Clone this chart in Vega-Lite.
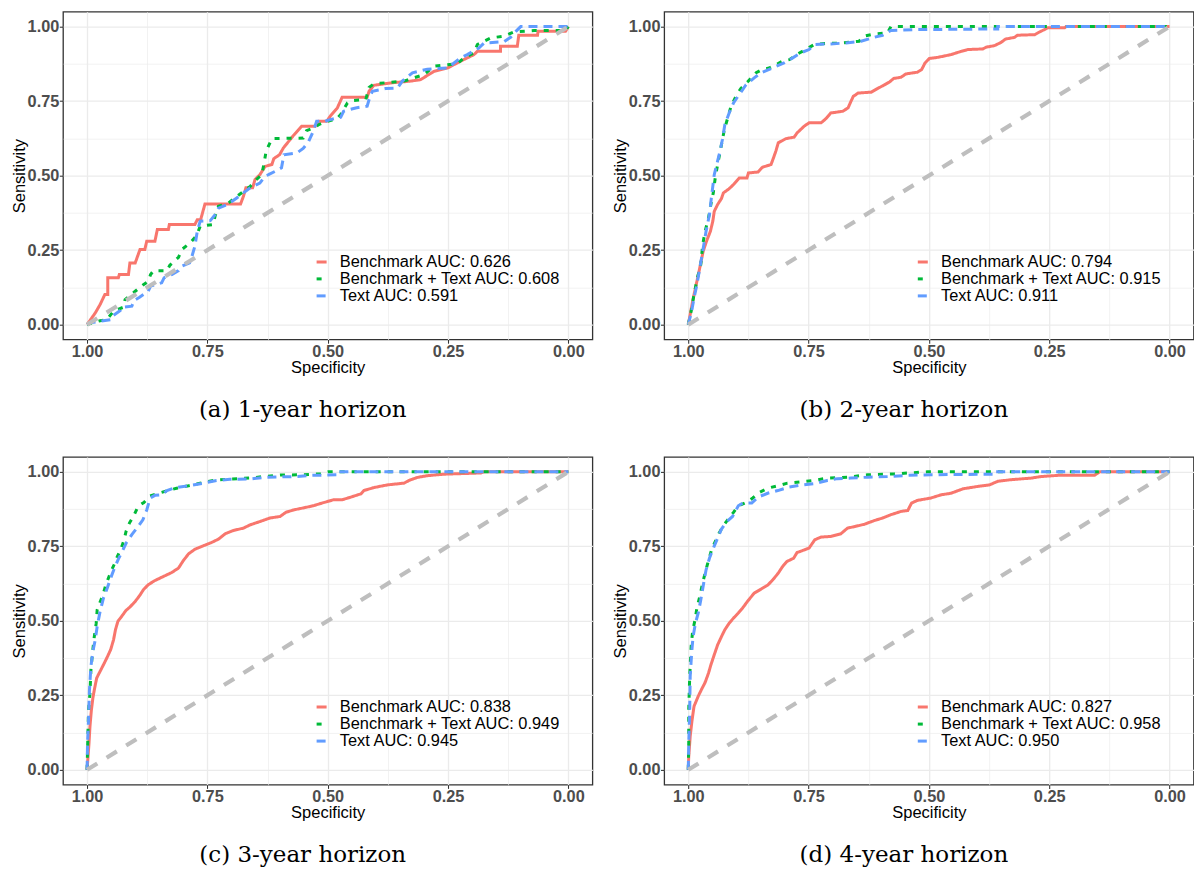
{
"$schema": "https://vega.github.io/schema/vega-lite/v6.json",
"background": "white",
"padding": {"left": 10, "top": 10.7, "right": 0, "bottom": 0},
"datasets": {
"diag": [{"sp": 1, "se": 0}, {"sp": 0, "se": 1}],
"roc": [
{"h":"a","m":"Benchmark AUC: 0.626","sp":1,"se":0},{"h":"a","m":"Benchmark AUC: 0.626","sp":0.983,"se":0.039},{"h":"a","m":"Benchmark AUC: 0.626","sp":0.973,"se":0.067},{"h":"a","m":"Benchmark AUC: 0.626","sp":0.963,"se":0.101},{"h":"a","m":"Benchmark AUC: 0.626","sp":0.957,"se":0.101},{"h":"a","m":"Benchmark AUC: 0.626","sp":0.957,"se":0.157},{"h":"a","m":"Benchmark AUC: 0.626","sp":0.935,"se":0.157},{"h":"a","m":"Benchmark AUC: 0.626","sp":0.933,"se":0.168},{"h":"a","m":"Benchmark AUC: 0.626","sp":0.914,"se":0.168},{"h":"a","m":"Benchmark AUC: 0.626","sp":0.911,"se":0.207},{"h":"a","m":"Benchmark AUC: 0.626","sp":0.9,"se":0.207},{"h":"a","m":"Benchmark AUC: 0.626","sp":0.89,"se":0.252},{"h":"a","m":"Benchmark AUC: 0.626","sp":0.88,"se":0.252},{"h":"a","m":"Benchmark AUC: 0.626","sp":0.876,"se":0.28},{"h":"a","m":"Benchmark AUC: 0.626","sp":0.859,"se":0.28},{"h":"a","m":"Benchmark AUC: 0.626","sp":0.854,"se":0.319},{"h":"a","m":"Benchmark AUC: 0.626","sp":0.831,"se":0.319},{"h":"a","m":"Benchmark AUC: 0.626","sp":0.829,"se":0.336},{"h":"a","m":"Benchmark AUC: 0.626","sp":0.776,"se":0.336},{"h":"a","m":"Benchmark AUC: 0.626","sp":0.771,"se":0.352},{"h":"a","m":"Benchmark AUC: 0.626","sp":0.764,"se":0.352},{"h":"a","m":"Benchmark AUC: 0.626","sp":0.755,"se":0.405},{"h":"a","m":"Benchmark AUC: 0.626","sp":0.681,"se":0.405},{"h":"a","m":"Benchmark AUC: 0.626","sp":0.675,"se":0.431},{"h":"a","m":"Benchmark AUC: 0.626","sp":0.67,"se":0.459},{"h":"a","m":"Benchmark AUC: 0.626","sp":0.656,"se":0.459},{"h":"a","m":"Benchmark AUC: 0.626","sp":0.651,"se":0.487},{"h":"a","m":"Benchmark AUC: 0.626","sp":0.641,"se":0.503},{"h":"a","m":"Benchmark AUC: 0.626","sp":0.63,"se":0.531},{"h":"a","m":"Benchmark AUC: 0.626","sp":0.616,"se":0.537},{"h":"a","m":"Benchmark AUC: 0.626","sp":0.612,"se":0.557},{"h":"a","m":"Benchmark AUC: 0.626","sp":0.6,"se":0.57},{"h":"a","m":"Benchmark AUC: 0.626","sp":0.592,"se":0.593},{"h":"a","m":"Benchmark AUC: 0.626","sp":0.578,"se":0.621},{"h":"a","m":"Benchmark AUC: 0.626","sp":0.571,"se":0.635},{"h":"a","m":"Benchmark AUC: 0.626","sp":0.554,"se":0.666},{"h":"a","m":"Benchmark AUC: 0.626","sp":0.526,"se":0.666},{"h":"a","m":"Benchmark AUC: 0.626","sp":0.519,"se":0.682},{"h":"a","m":"Benchmark AUC: 0.626","sp":0.502,"se":0.682},{"h":"a","m":"Benchmark AUC: 0.626","sp":0.495,"se":0.699},{"h":"a","m":"Benchmark AUC: 0.626","sp":0.48,"se":0.727},{"h":"a","m":"Benchmark AUC: 0.626","sp":0.47,"se":0.763},{"h":"a","m":"Benchmark AUC: 0.626","sp":0.418,"se":0.763},{"h":"a","m":"Benchmark AUC: 0.626","sp":0.414,"se":0.783},{"h":"a","m":"Benchmark AUC: 0.626","sp":0.404,"se":0.803},{"h":"a","m":"Benchmark AUC: 0.626","sp":0.369,"se":0.811},{"h":"a","m":"Benchmark AUC: 0.626","sp":0.328,"se":0.817},{"h":"a","m":"Benchmark AUC: 0.626","sp":0.307,"se":0.822},{"h":"a","m":"Benchmark AUC: 0.626","sp":0.279,"se":0.85},{"h":"a","m":"Benchmark AUC: 0.626","sp":0.251,"se":0.861},{"h":"a","m":"Benchmark AUC: 0.626","sp":0.224,"se":0.884},{"h":"a","m":"Benchmark AUC: 0.626","sp":0.196,"se":0.906},{"h":"a","m":"Benchmark AUC: 0.626","sp":0.189,"se":0.917},{"h":"a","m":"Benchmark AUC: 0.626","sp":0.141,"se":0.917},{"h":"a","m":"Benchmark AUC: 0.626","sp":0.141,"se":0.934},{"h":"a","m":"Benchmark AUC: 0.626","sp":0.106,"se":0.934},{"h":"a","m":"Benchmark AUC: 0.626","sp":0.103,"se":0.971},{"h":"a","m":"Benchmark AUC: 0.626","sp":0.064,"se":0.971},{"h":"a","m":"Benchmark AUC: 0.626","sp":0.063,"se":0.984},{"h":"a","m":"Benchmark AUC: 0.626","sp":0.006,"se":0.984},{"h":"a","m":"Benchmark AUC: 0.626","sp":0,"se":1},
{"h":"a","m":"Benchmark + Text AUC: 0.608","sp":1,"se":0},{"h":"a","m":"Benchmark + Text AUC: 0.608","sp":0.973,"se":0.013},{"h":"a","m":"Benchmark + Text AUC: 0.608","sp":0.959,"se":0.017},{"h":"a","m":"Benchmark + Text AUC: 0.608","sp":0.945,"se":0.045},{"h":"a","m":"Benchmark + Text AUC: 0.608","sp":0.925,"se":0.058},{"h":"a","m":"Benchmark + Text AUC: 0.608","sp":0.921,"se":0.084},{"h":"a","m":"Benchmark + Text AUC: 0.608","sp":0.9,"se":0.112},{"h":"a","m":"Benchmark + Text AUC: 0.608","sp":0.883,"se":0.134},{"h":"a","m":"Benchmark + Text AUC: 0.608","sp":0.873,"se":0.145},{"h":"a","m":"Benchmark + Text AUC: 0.608","sp":0.868,"se":0.168},{"h":"a","m":"Benchmark + Text AUC: 0.608","sp":0.862,"se":0.181},{"h":"a","m":"Benchmark + Text AUC: 0.608","sp":0.834,"se":0.181},{"h":"a","m":"Benchmark + Text AUC: 0.608","sp":0.828,"se":0.199},{"h":"a","m":"Benchmark + Text AUC: 0.608","sp":0.81,"se":0.226},{"h":"a","m":"Benchmark + Text AUC: 0.608","sp":0.803,"se":0.252},{"h":"a","m":"Benchmark + Text AUC: 0.608","sp":0.786,"se":0.274},{"h":"a","m":"Benchmark + Text AUC: 0.608","sp":0.772,"se":0.3},{"h":"a","m":"Benchmark + Text AUC: 0.608","sp":0.765,"se":0.33},{"h":"a","m":"Benchmark + Text AUC: 0.608","sp":0.738,"se":0.336},{"h":"a","m":"Benchmark + Text AUC: 0.608","sp":0.734,"se":0.364},{"h":"a","m":"Benchmark + Text AUC: 0.608","sp":0.727,"se":0.397},{"h":"a","m":"Benchmark + Text AUC: 0.608","sp":0.706,"se":0.408},{"h":"a","m":"Benchmark + Text AUC: 0.608","sp":0.693,"se":0.425},{"h":"a","m":"Benchmark + Text AUC: 0.608","sp":0.675,"se":0.447},{"h":"a","m":"Benchmark + Text AUC: 0.608","sp":0.661,"se":0.464},{"h":"a","m":"Benchmark + Text AUC: 0.608","sp":0.648,"se":0.487},{"h":"a","m":"Benchmark + Text AUC: 0.608","sp":0.637,"se":0.503},{"h":"a","m":"Benchmark + Text AUC: 0.608","sp":0.632,"se":0.543},{"h":"a","m":"Benchmark + Text AUC: 0.608","sp":0.628,"se":0.582},{"h":"a","m":"Benchmark + Text AUC: 0.608","sp":0.616,"se":0.624},{"h":"a","m":"Benchmark + Text AUC: 0.608","sp":0.551,"se":0.626},{"h":"a","m":"Benchmark + Text AUC: 0.608","sp":0.544,"se":0.651},{"h":"a","m":"Benchmark + Text AUC: 0.608","sp":0.533,"se":0.658},{"h":"a","m":"Benchmark + Text AUC: 0.608","sp":0.516,"se":0.673},{"h":"a","m":"Benchmark + Text AUC: 0.608","sp":0.495,"se":0.685},{"h":"a","m":"Benchmark + Text AUC: 0.608","sp":0.483,"se":0.688},{"h":"a","m":"Benchmark + Text AUC: 0.608","sp":0.473,"se":0.705},{"h":"a","m":"Benchmark + Text AUC: 0.608","sp":0.459,"se":0.744},{"h":"a","m":"Benchmark + Text AUC: 0.608","sp":0.449,"se":0.752},{"h":"a","m":"Benchmark + Text AUC: 0.608","sp":0.421,"se":0.755},{"h":"a","m":"Benchmark + Text AUC: 0.608","sp":0.414,"se":0.796},{"h":"a","m":"Benchmark + Text AUC: 0.608","sp":0.404,"se":0.808},{"h":"a","m":"Benchmark + Text AUC: 0.608","sp":0.341,"se":0.817},{"h":"a","m":"Benchmark + Text AUC: 0.608","sp":0.321,"se":0.828},{"h":"a","m":"Benchmark + Text AUC: 0.608","sp":0.3,"se":0.839},{"h":"a","m":"Benchmark + Text AUC: 0.608","sp":0.279,"se":0.867},{"h":"a","m":"Benchmark + Text AUC: 0.608","sp":0.251,"se":0.872},{"h":"a","m":"Benchmark + Text AUC: 0.608","sp":0.23,"se":0.876},{"h":"a","m":"Benchmark + Text AUC: 0.608","sp":0.217,"se":0.895},{"h":"a","m":"Benchmark + Text AUC: 0.608","sp":0.196,"se":0.912},{"h":"a","m":"Benchmark + Text AUC: 0.608","sp":0.189,"se":0.94},{"h":"a","m":"Benchmark + Text AUC: 0.608","sp":0.161,"se":0.962},{"h":"a","m":"Benchmark + Text AUC: 0.608","sp":0.134,"se":0.968},{"h":"a","m":"Benchmark + Text AUC: 0.608","sp":0.113,"se":0.982},{"h":"a","m":"Benchmark + Text AUC: 0.608","sp":0.071,"se":0.987},{"h":"a","m":"Benchmark + Text AUC: 0.608","sp":0.006,"se":0.987},{"h":"a","m":"Benchmark + Text AUC: 0.608","sp":0,"se":1},
{"h":"a","m":"Text AUC: 0.591","sp":1,"se":0},{"h":"a","m":"Text AUC: 0.591","sp":0.994,"se":0.006},{"h":"a","m":"Text AUC: 0.591","sp":0.949,"se":0.017},{"h":"a","m":"Text AUC: 0.591","sp":0.945,"se":0.031},{"h":"a","m":"Text AUC: 0.591","sp":0.931,"se":0.047},{"h":"a","m":"Text AUC: 0.591","sp":0.928,"se":0.058},{"h":"a","m":"Text AUC: 0.591","sp":0.907,"se":0.062},{"h":"a","m":"Text AUC: 0.591","sp":0.902,"se":0.081},{"h":"a","m":"Text AUC: 0.591","sp":0.891,"se":0.092},{"h":"a","m":"Text AUC: 0.591","sp":0.873,"se":0.112},{"h":"a","m":"Text AUC: 0.591","sp":0.868,"se":0.129},{"h":"a","m":"Text AUC: 0.591","sp":0.845,"se":0.14},{"h":"a","m":"Text AUC: 0.591","sp":0.84,"se":0.157},{"h":"a","m":"Text AUC: 0.591","sp":0.824,"se":0.168},{"h":"a","m":"Text AUC: 0.591","sp":0.81,"se":0.181},{"h":"a","m":"Text AUC: 0.591","sp":0.803,"se":0.196},{"h":"a","m":"Text AUC: 0.591","sp":0.787,"se":0.207},{"h":"a","m":"Text AUC: 0.591","sp":0.783,"se":0.224},{"h":"a","m":"Text AUC: 0.591","sp":0.776,"se":0.263},{"h":"a","m":"Text AUC: 0.591","sp":0.771,"se":0.313},{"h":"a","m":"Text AUC: 0.591","sp":0.765,"se":0.347},{"h":"a","m":"Text AUC: 0.591","sp":0.744,"se":0.349},{"h":"a","m":"Text AUC: 0.591","sp":0.734,"se":0.369},{"h":"a","m":"Text AUC: 0.591","sp":0.727,"se":0.391},{"h":"a","m":"Text AUC: 0.591","sp":0.706,"se":0.405},{"h":"a","m":"Text AUC: 0.591","sp":0.689,"se":0.425},{"h":"a","m":"Text AUC: 0.591","sp":0.675,"se":0.442},{"h":"a","m":"Text AUC: 0.591","sp":0.661,"se":0.459},{"h":"a","m":"Text AUC: 0.591","sp":0.641,"se":0.475},{"h":"a","m":"Text AUC: 0.591","sp":0.63,"se":0.498},{"h":"a","m":"Text AUC: 0.591","sp":0.623,"se":0.503},{"h":"a","m":"Text AUC: 0.591","sp":0.606,"se":0.517},{"h":"a","m":"Text AUC: 0.591","sp":0.596,"se":0.526},{"h":"a","m":"Text AUC: 0.591","sp":0.591,"se":0.57},{"h":"a","m":"Text AUC: 0.591","sp":0.564,"se":0.576},{"h":"a","m":"Text AUC: 0.591","sp":0.551,"se":0.591},{"h":"a","m":"Text AUC: 0.591","sp":0.54,"se":0.613},{"h":"a","m":"Text AUC: 0.591","sp":0.53,"se":0.649},{"h":"a","m":"Text AUC: 0.591","sp":0.523,"se":0.682},{"h":"a","m":"Text AUC: 0.591","sp":0.506,"se":0.682},{"h":"a","m":"Text AUC: 0.591","sp":0.495,"se":0.688},{"h":"a","m":"Text AUC: 0.591","sp":0.473,"se":0.696},{"h":"a","m":"Text AUC: 0.591","sp":0.467,"se":0.716},{"h":"a","m":"Text AUC: 0.591","sp":0.442,"se":0.727},{"h":"a","m":"Text AUC: 0.591","sp":0.418,"se":0.733},{"h":"a","m":"Text AUC: 0.591","sp":0.412,"se":0.766},{"h":"a","m":"Text AUC: 0.591","sp":0.407,"se":0.783},{"h":"a","m":"Text AUC: 0.591","sp":0.38,"se":0.792},{"h":"a","m":"Text AUC: 0.591","sp":0.355,"se":0.794},{"h":"a","m":"Text AUC: 0.591","sp":0.345,"se":0.817},{"h":"a","m":"Text AUC: 0.591","sp":0.324,"se":0.845},{"h":"a","m":"Text AUC: 0.591","sp":0.293,"se":0.857},{"h":"a","m":"Text AUC: 0.591","sp":0.251,"se":0.861},{"h":"a","m":"Text AUC: 0.591","sp":0.224,"se":0.895},{"h":"a","m":"Text AUC: 0.591","sp":0.21,"se":0.906},{"h":"a","m":"Text AUC: 0.591","sp":0.186,"se":0.928},{"h":"a","m":"Text AUC: 0.591","sp":0.175,"se":0.945},{"h":"a","m":"Text AUC: 0.591","sp":0.134,"se":0.949},{"h":"a","m":"Text AUC: 0.591","sp":0.12,"se":0.964},{"h":"a","m":"Text AUC: 0.591","sp":0.109,"se":0.984},{"h":"a","m":"Text AUC: 0.591","sp":0.099,"se":1},{"h":"a","m":"Text AUC: 0.591","sp":0,"se":1},
{"h":"b","m":"Benchmark AUC: 0.794","sp":1,"se":0},{"h":"b","m":"Benchmark AUC: 0.794","sp":0.996,"se":0.034},{"h":"b","m":"Benchmark AUC: 0.794","sp":0.991,"se":0.078},{"h":"b","m":"Benchmark AUC: 0.794","sp":0.985,"se":0.123},{"h":"b","m":"Benchmark AUC: 0.794","sp":0.979,"se":0.168},{"h":"b","m":"Benchmark AUC: 0.794","sp":0.974,"se":0.207},{"h":"b","m":"Benchmark AUC: 0.794","sp":0.969,"se":0.246},{"h":"b","m":"Benchmark AUC: 0.794","sp":0.962,"se":0.28},{"h":"b","m":"Benchmark AUC: 0.794","sp":0.954,"se":0.313},{"h":"b","m":"Benchmark AUC: 0.794","sp":0.949,"se":0.347},{"h":"b","m":"Benchmark AUC: 0.794","sp":0.946,"se":0.38},{"h":"b","m":"Benchmark AUC: 0.794","sp":0.939,"se":0.403},{"h":"b","m":"Benchmark AUC: 0.794","sp":0.931,"se":0.423},{"h":"b","m":"Benchmark AUC: 0.794","sp":0.927,"se":0.442},{"h":"b","m":"Benchmark AUC: 0.794","sp":0.915,"se":0.456},{"h":"b","m":"Benchmark AUC: 0.794","sp":0.906,"se":0.47},{"h":"b","m":"Benchmark AUC: 0.794","sp":0.894,"se":0.492},{"h":"b","m":"Benchmark AUC: 0.794","sp":0.878,"se":0.492},{"h":"b","m":"Benchmark AUC: 0.794","sp":0.875,"se":0.509},{"h":"b","m":"Benchmark AUC: 0.794","sp":0.855,"se":0.512},{"h":"b","m":"Benchmark AUC: 0.794","sp":0.846,"se":0.528},{"h":"b","m":"Benchmark AUC: 0.794","sp":0.828,"se":0.537},{"h":"b","m":"Benchmark AUC: 0.794","sp":0.823,"se":0.559},{"h":"b","m":"Benchmark AUC: 0.794","sp":0.818,"se":0.582},{"h":"b","m":"Benchmark AUC: 0.794","sp":0.813,"se":0.61},{"h":"b","m":"Benchmark AUC: 0.794","sp":0.797,"se":0.624},{"h":"b","m":"Benchmark AUC: 0.794","sp":0.78,"se":0.629},{"h":"b","m":"Benchmark AUC: 0.794","sp":0.774,"se":0.643},{"h":"b","m":"Benchmark AUC: 0.794","sp":0.759,"se":0.666},{"h":"b","m":"Benchmark AUC: 0.794","sp":0.749,"se":0.677},{"h":"b","m":"Benchmark AUC: 0.794","sp":0.724,"se":0.677},{"h":"b","m":"Benchmark AUC: 0.794","sp":0.714,"se":0.691},{"h":"b","m":"Benchmark AUC: 0.794","sp":0.704,"se":0.71},{"h":"b","m":"Benchmark AUC: 0.794","sp":0.679,"se":0.716},{"h":"b","m":"Benchmark AUC: 0.794","sp":0.668,"se":0.727},{"h":"b","m":"Benchmark AUC: 0.794","sp":0.662,"se":0.749},{"h":"b","m":"Benchmark AUC: 0.794","sp":0.657,"se":0.766},{"h":"b","m":"Benchmark AUC: 0.794","sp":0.647,"se":0.777},{"h":"b","m":"Benchmark AUC: 0.794","sp":0.62,"se":0.78},{"h":"b","m":"Benchmark AUC: 0.794","sp":0.607,"se":0.792},{"h":"b","m":"Benchmark AUC: 0.794","sp":0.594,"se":0.803},{"h":"b","m":"Benchmark AUC: 0.794","sp":0.582,"se":0.814},{"h":"b","m":"Benchmark AUC: 0.794","sp":0.573,"se":0.826},{"h":"b","m":"Benchmark AUC: 0.794","sp":0.558,"se":0.83},{"h":"b","m":"Benchmark AUC: 0.794","sp":0.548,"se":0.841},{"h":"b","m":"Benchmark AUC: 0.794","sp":0.524,"se":0.847},{"h":"b","m":"Benchmark AUC: 0.794","sp":0.515,"se":0.856},{"h":"b","m":"Benchmark AUC: 0.794","sp":0.508,"se":0.878},{"h":"b","m":"Benchmark AUC: 0.794","sp":0.499,"se":0.893},{"h":"b","m":"Benchmark AUC: 0.794","sp":0.481,"se":0.897},{"h":"b","m":"Benchmark AUC: 0.794","sp":0.454,"se":0.906},{"h":"b","m":"Benchmark AUC: 0.794","sp":0.433,"se":0.917},{"h":"b","m":"Benchmark AUC: 0.794","sp":0.419,"se":0.923},{"h":"b","m":"Benchmark AUC: 0.794","sp":0.388,"se":0.925},{"h":"b","m":"Benchmark AUC: 0.794","sp":0.381,"se":0.931},{"h":"b","m":"Benchmark AUC: 0.794","sp":0.364,"se":0.936},{"h":"b","m":"Benchmark AUC: 0.794","sp":0.35,"se":0.947},{"h":"b","m":"Benchmark AUC: 0.794","sp":0.341,"se":0.958},{"h":"b","m":"Benchmark AUC: 0.794","sp":0.322,"se":0.964},{"h":"b","m":"Benchmark AUC: 0.794","sp":0.316,"se":0.971},{"h":"b","m":"Benchmark AUC: 0.794","sp":0.28,"se":0.973},{"h":"b","m":"Benchmark AUC: 0.794","sp":0.27,"se":0.982},{"h":"b","m":"Benchmark AUC: 0.794","sp":0.26,"se":0.99},{"h":"b","m":"Benchmark AUC: 0.794","sp":0.253,"se":0.996},{"h":"b","m":"Benchmark AUC: 0.794","sp":0.218,"se":0.996},{"h":"b","m":"Benchmark AUC: 0.794","sp":0.215,"se":1},{"h":"b","m":"Benchmark AUC: 0.794","sp":0,"se":1},
{"h":"b","m":"Benchmark + Text AUC: 0.915","sp":1,"se":0},{"h":"b","m":"Benchmark + Text AUC: 0.915","sp":0.994,"se":0.045},{"h":"b","m":"Benchmark + Text AUC: 0.915","sp":0.988,"se":0.101},{"h":"b","m":"Benchmark + Text AUC: 0.915","sp":0.981,"se":0.157},{"h":"b","m":"Benchmark + Text AUC: 0.915","sp":0.974,"se":0.201},{"h":"b","m":"Benchmark + Text AUC: 0.915","sp":0.97,"se":0.268},{"h":"b","m":"Benchmark + Text AUC: 0.915","sp":0.965,"se":0.313},{"h":"b","m":"Benchmark + Text AUC: 0.915","sp":0.958,"se":0.358},{"h":"b","m":"Benchmark + Text AUC: 0.915","sp":0.953,"se":0.403},{"h":"b","m":"Benchmark + Text AUC: 0.915","sp":0.948,"se":0.442},{"h":"b","m":"Benchmark + Text AUC: 0.915","sp":0.944,"se":0.492},{"h":"b","m":"Benchmark + Text AUC: 0.915","sp":0.939,"se":0.537},{"h":"b","m":"Benchmark + Text AUC: 0.915","sp":0.935,"se":0.57},{"h":"b","m":"Benchmark + Text AUC: 0.915","sp":0.931,"se":0.604},{"h":"b","m":"Benchmark + Text AUC: 0.915","sp":0.925,"se":0.654},{"h":"b","m":"Benchmark + Text AUC: 0.915","sp":0.918,"se":0.694},{"h":"b","m":"Benchmark + Text AUC: 0.915","sp":0.911,"se":0.733},{"h":"b","m":"Benchmark + Text AUC: 0.915","sp":0.901,"se":0.766},{"h":"b","m":"Benchmark + Text AUC: 0.915","sp":0.891,"se":0.792},{"h":"b","m":"Benchmark + Text AUC: 0.915","sp":0.877,"se":0.814},{"h":"b","m":"Benchmark + Text AUC: 0.915","sp":0.859,"se":0.845},{"h":"b","m":"Benchmark + Text AUC: 0.915","sp":0.846,"se":0.856},{"h":"b","m":"Benchmark + Text AUC: 0.915","sp":0.832,"se":0.861},{"h":"b","m":"Benchmark + Text AUC: 0.915","sp":0.818,"se":0.872},{"h":"b","m":"Benchmark + Text AUC: 0.915","sp":0.804,"se":0.884},{"h":"b","m":"Benchmark + Text AUC: 0.915","sp":0.79,"se":0.889},{"h":"b","m":"Benchmark + Text AUC: 0.915","sp":0.773,"se":0.908},{"h":"b","m":"Benchmark + Text AUC: 0.915","sp":0.756,"se":0.923},{"h":"b","m":"Benchmark + Text AUC: 0.915","sp":0.738,"se":0.94},{"h":"b","m":"Benchmark + Text AUC: 0.915","sp":0.717,"se":0.943},{"h":"b","m":"Benchmark + Text AUC: 0.915","sp":0.683,"se":0.945},{"h":"b","m":"Benchmark + Text AUC: 0.915","sp":0.645,"se":0.951},{"h":"b","m":"Benchmark + Text AUC: 0.915","sp":0.634,"se":0.968},{"h":"b","m":"Benchmark + Text AUC: 0.915","sp":0.614,"se":0.975},{"h":"b","m":"Benchmark + Text AUC: 0.915","sp":0.586,"se":0.979},{"h":"b","m":"Benchmark + Text AUC: 0.915","sp":0.579,"se":1},{"h":"b","m":"Benchmark + Text AUC: 0.915","sp":0,"se":1},
{"h":"b","m":"Text AUC: 0.911","sp":1,"se":0},{"h":"b","m":"Text AUC: 0.911","sp":0.993,"se":0.045},{"h":"b","m":"Text AUC: 0.911","sp":0.988,"se":0.089},{"h":"b","m":"Text AUC: 0.911","sp":0.982,"se":0.134},{"h":"b","m":"Text AUC: 0.911","sp":0.976,"se":0.19},{"h":"b","m":"Text AUC: 0.911","sp":0.97,"se":0.246},{"h":"b","m":"Text AUC: 0.911","sp":0.963,"se":0.313},{"h":"b","m":"Text AUC: 0.911","sp":0.956,"se":0.369},{"h":"b","m":"Text AUC: 0.911","sp":0.952,"se":0.425},{"h":"b","m":"Text AUC: 0.911","sp":0.946,"se":0.503},{"h":"b","m":"Text AUC: 0.911","sp":0.94,"se":0.543},{"h":"b","m":"Text AUC: 0.911","sp":0.934,"se":0.582},{"h":"b","m":"Text AUC: 0.911","sp":0.929,"se":0.621},{"h":"b","m":"Text AUC: 0.911","sp":0.924,"se":0.671},{"h":"b","m":"Text AUC: 0.911","sp":0.915,"se":0.71},{"h":"b","m":"Text AUC: 0.911","sp":0.906,"se":0.744},{"h":"b","m":"Text AUC: 0.911","sp":0.894,"se":0.772},{"h":"b","m":"Text AUC: 0.911","sp":0.88,"se":0.805},{"h":"b","m":"Text AUC: 0.911","sp":0.863,"se":0.828},{"h":"b","m":"Text AUC: 0.911","sp":0.849,"se":0.845},{"h":"b","m":"Text AUC: 0.911","sp":0.828,"se":0.859},{"h":"b","m":"Text AUC: 0.911","sp":0.801,"se":0.878},{"h":"b","m":"Text AUC: 0.911","sp":0.783,"se":0.895},{"h":"b","m":"Text AUC: 0.911","sp":0.766,"se":0.912},{"h":"b","m":"Text AUC: 0.911","sp":0.749,"se":0.923},{"h":"b","m":"Text AUC: 0.911","sp":0.737,"se":0.94},{"h":"b","m":"Text AUC: 0.911","sp":0.704,"se":0.942},{"h":"b","m":"Text AUC: 0.911","sp":0.672,"se":0.945},{"h":"b","m":"Text AUC: 0.911","sp":0.641,"se":0.951},{"h":"b","m":"Text AUC: 0.911","sp":0.614,"se":0.964},{"h":"b","m":"Text AUC: 0.911","sp":0.596,"se":0.971},{"h":"b","m":"Text AUC: 0.911","sp":0.579,"se":0.987},{"h":"b","m":"Text AUC: 0.911","sp":0.53,"se":0.99},{"h":"b","m":"Text AUC: 0.911","sp":0.357,"se":0.992},{"h":"b","m":"Text AUC: 0.911","sp":0.357,"se":1},{"h":"b","m":"Text AUC: 0.911","sp":0,"se":1},
{"h":"c","m":"Benchmark AUC: 0.838","sp":1,"se":0},{"h":"c","m":"Benchmark AUC: 0.838","sp":0.998,"se":0.045},{"h":"c","m":"Benchmark AUC: 0.838","sp":0.996,"se":0.089},{"h":"c","m":"Benchmark AUC: 0.838","sp":0.994,"se":0.145},{"h":"c","m":"Benchmark AUC: 0.838","sp":0.991,"se":0.201},{"h":"c","m":"Benchmark AUC: 0.838","sp":0.988,"se":0.24},{"h":"c","m":"Benchmark AUC: 0.838","sp":0.985,"se":0.268},{"h":"c","m":"Benchmark AUC: 0.838","sp":0.98,"se":0.308},{"h":"c","m":"Benchmark AUC: 0.838","sp":0.974,"se":0.327},{"h":"c","m":"Benchmark AUC: 0.838","sp":0.967,"se":0.349},{"h":"c","m":"Benchmark AUC: 0.838","sp":0.959,"se":0.375},{"h":"c","m":"Benchmark AUC: 0.838","sp":0.951,"se":0.403},{"h":"c","m":"Benchmark AUC: 0.838","sp":0.945,"se":0.436},{"h":"c","m":"Benchmark AUC: 0.838","sp":0.941,"se":0.47},{"h":"c","m":"Benchmark AUC: 0.838","sp":0.936,"se":0.498},{"h":"c","m":"Benchmark AUC: 0.838","sp":0.928,"se":0.515},{"h":"c","m":"Benchmark AUC: 0.838","sp":0.919,"se":0.535},{"h":"c","m":"Benchmark AUC: 0.838","sp":0.911,"se":0.546},{"h":"c","m":"Benchmark AUC: 0.838","sp":0.9,"se":0.565},{"h":"c","m":"Benchmark AUC: 0.838","sp":0.891,"se":0.584},{"h":"c","m":"Benchmark AUC: 0.838","sp":0.883,"se":0.604},{"h":"c","m":"Benchmark AUC: 0.838","sp":0.873,"se":0.621},{"h":"c","m":"Benchmark AUC: 0.838","sp":0.859,"se":0.635},{"h":"c","m":"Benchmark AUC: 0.838","sp":0.841,"se":0.649},{"h":"c","m":"Benchmark AUC: 0.838","sp":0.824,"se":0.662},{"h":"c","m":"Benchmark AUC: 0.838","sp":0.81,"se":0.677},{"h":"c","m":"Benchmark AUC: 0.838","sp":0.8,"se":0.702},{"h":"c","m":"Benchmark AUC: 0.838","sp":0.789,"se":0.725},{"h":"c","m":"Benchmark AUC: 0.838","sp":0.776,"se":0.74},{"h":"c","m":"Benchmark AUC: 0.838","sp":0.758,"se":0.752},{"h":"c","m":"Benchmark AUC: 0.838","sp":0.741,"se":0.763},{"h":"c","m":"Benchmark AUC: 0.838","sp":0.727,"se":0.774},{"h":"c","m":"Benchmark AUC: 0.838","sp":0.713,"se":0.792},{"h":"c","m":"Benchmark AUC: 0.838","sp":0.696,"se":0.803},{"h":"c","m":"Benchmark AUC: 0.838","sp":0.675,"se":0.811},{"h":"c","m":"Benchmark AUC: 0.838","sp":0.661,"se":0.822},{"h":"c","m":"Benchmark AUC: 0.838","sp":0.641,"se":0.833},{"h":"c","m":"Benchmark AUC: 0.838","sp":0.62,"se":0.845},{"h":"c","m":"Benchmark AUC: 0.838","sp":0.599,"se":0.85},{"h":"c","m":"Benchmark AUC: 0.838","sp":0.587,"se":0.864},{"h":"c","m":"Benchmark AUC: 0.838","sp":0.571,"se":0.872},{"h":"c","m":"Benchmark AUC: 0.838","sp":0.547,"se":0.88},{"h":"c","m":"Benchmark AUC: 0.838","sp":0.53,"se":0.886},{"h":"c","m":"Benchmark AUC: 0.838","sp":0.512,"se":0.895},{"h":"c","m":"Benchmark AUC: 0.838","sp":0.488,"se":0.906},{"h":"c","m":"Benchmark AUC: 0.838","sp":0.47,"se":0.906},{"h":"c","m":"Benchmark AUC: 0.838","sp":0.452,"se":0.915},{"h":"c","m":"Benchmark AUC: 0.838","sp":0.431,"se":0.926},{"h":"c","m":"Benchmark AUC: 0.838","sp":0.425,"se":0.937},{"h":"c","m":"Benchmark AUC: 0.838","sp":0.404,"se":0.947},{"h":"c","m":"Benchmark AUC: 0.838","sp":0.376,"se":0.956},{"h":"c","m":"Benchmark AUC: 0.838","sp":0.341,"se":0.962},{"h":"c","m":"Benchmark AUC: 0.838","sp":0.331,"se":0.971},{"h":"c","m":"Benchmark AUC: 0.838","sp":0.314,"se":0.981},{"h":"c","m":"Benchmark AUC: 0.838","sp":0.293,"se":0.987},{"h":"c","m":"Benchmark AUC: 0.838","sp":0.258,"se":0.992},{"h":"c","m":"Benchmark AUC: 0.838","sp":0.182,"se":0.996},{"h":"c","m":"Benchmark AUC: 0.838","sp":0.175,"se":1},{"h":"c","m":"Benchmark AUC: 0.838","sp":0,"se":1},
{"h":"c","m":"Benchmark + Text AUC: 0.949","sp":1,"se":0},{"h":"c","m":"Benchmark + Text AUC: 0.949","sp":0.999,"se":0.067},{"h":"c","m":"Benchmark + Text AUC: 0.949","sp":0.998,"se":0.134},{"h":"c","m":"Benchmark + Text AUC: 0.949","sp":0.997,"se":0.201},{"h":"c","m":"Benchmark + Text AUC: 0.949","sp":0.994,"se":0.257},{"h":"c","m":"Benchmark + Text AUC: 0.949","sp":0.992,"se":0.336},{"h":"c","m":"Benchmark + Text AUC: 0.949","sp":0.988,"se":0.403},{"h":"c","m":"Benchmark + Text AUC: 0.949","sp":0.985,"se":0.447},{"h":"c","m":"Benchmark + Text AUC: 0.949","sp":0.981,"se":0.492},{"h":"c","m":"Benchmark + Text AUC: 0.949","sp":0.979,"se":0.537},{"h":"c","m":"Benchmark + Text AUC: 0.949","sp":0.974,"se":0.559},{"h":"c","m":"Benchmark + Text AUC: 0.949","sp":0.967,"se":0.587},{"h":"c","m":"Benchmark + Text AUC: 0.949","sp":0.961,"se":0.621},{"h":"c","m":"Benchmark + Text AUC: 0.949","sp":0.952,"se":0.658},{"h":"c","m":"Benchmark + Text AUC: 0.949","sp":0.944,"se":0.688},{"h":"c","m":"Benchmark + Text AUC: 0.949","sp":0.937,"se":0.716},{"h":"c","m":"Benchmark + Text AUC: 0.949","sp":0.93,"se":0.74},{"h":"c","m":"Benchmark + Text AUC: 0.949","sp":0.923,"se":0.772},{"h":"c","m":"Benchmark + Text AUC: 0.949","sp":0.919,"se":0.8},{"h":"c","m":"Benchmark + Text AUC: 0.949","sp":0.912,"se":0.828},{"h":"c","m":"Benchmark + Text AUC: 0.949","sp":0.902,"se":0.856},{"h":"c","m":"Benchmark + Text AUC: 0.949","sp":0.894,"se":0.884},{"h":"c","m":"Benchmark + Text AUC: 0.949","sp":0.882,"se":0.897},{"h":"c","m":"Benchmark + Text AUC: 0.949","sp":0.869,"se":0.919},{"h":"c","m":"Benchmark + Text AUC: 0.949","sp":0.852,"se":0.928},{"h":"c","m":"Benchmark + Text AUC: 0.949","sp":0.834,"se":0.936},{"h":"c","m":"Benchmark + Text AUC: 0.949","sp":0.814,"se":0.945},{"h":"c","m":"Benchmark + Text AUC: 0.949","sp":0.789,"se":0.953},{"h":"c","m":"Benchmark + Text AUC: 0.949","sp":0.765,"se":0.962},{"h":"c","m":"Benchmark + Text AUC: 0.949","sp":0.738,"se":0.971},{"h":"c","m":"Benchmark + Text AUC: 0.949","sp":0.71,"se":0.975},{"h":"c","m":"Benchmark + Text AUC: 0.949","sp":0.661,"se":0.979},{"h":"c","m":"Benchmark + Text AUC: 0.949","sp":0.634,"se":0.984},{"h":"c","m":"Benchmark + Text AUC: 0.949","sp":0.599,"se":0.989},{"h":"c","m":"Benchmark + Text AUC: 0.949","sp":0.551,"se":0.99},{"h":"c","m":"Benchmark + Text AUC: 0.949","sp":0.516,"se":0.993},{"h":"c","m":"Benchmark + Text AUC: 0.949","sp":0.499,"se":1},{"h":"c","m":"Benchmark + Text AUC: 0.949","sp":0,"se":1},
{"h":"c","m":"Text AUC: 0.945","sp":1,"se":0},{"h":"c","m":"Text AUC: 0.945","sp":0.999,"se":0.089},{"h":"c","m":"Text AUC: 0.945","sp":0.997,"se":0.168},{"h":"c","m":"Text AUC: 0.945","sp":0.995,"se":0.268},{"h":"c","m":"Text AUC: 0.945","sp":0.992,"se":0.347},{"h":"c","m":"Text AUC: 0.945","sp":0.988,"se":0.397},{"h":"c","m":"Text AUC: 0.945","sp":0.983,"se":0.436},{"h":"c","m":"Text AUC: 0.945","sp":0.979,"se":0.481},{"h":"c","m":"Text AUC: 0.945","sp":0.973,"se":0.531},{"h":"c","m":"Text AUC: 0.945","sp":0.966,"se":0.576},{"h":"c","m":"Text AUC: 0.945","sp":0.958,"se":0.61},{"h":"c","m":"Text AUC: 0.945","sp":0.951,"se":0.643},{"h":"c","m":"Text AUC: 0.945","sp":0.944,"se":0.673},{"h":"c","m":"Text AUC: 0.945","sp":0.935,"se":0.707},{"h":"c","m":"Text AUC: 0.945","sp":0.926,"se":0.736},{"h":"c","m":"Text AUC: 0.945","sp":0.918,"se":0.763},{"h":"c","m":"Text AUC: 0.945","sp":0.907,"se":0.789},{"h":"c","m":"Text AUC: 0.945","sp":0.895,"se":0.814},{"h":"c","m":"Text AUC: 0.945","sp":0.884,"se":0.839},{"h":"c","m":"Text AUC: 0.945","sp":0.876,"se":0.872},{"h":"c","m":"Text AUC: 0.945","sp":0.869,"se":0.912},{"h":"c","m":"Text AUC: 0.945","sp":0.859,"se":0.921},{"h":"c","m":"Text AUC: 0.945","sp":0.845,"se":0.923},{"h":"c","m":"Text AUC: 0.945","sp":0.834,"se":0.937},{"h":"c","m":"Text AUC: 0.945","sp":0.817,"se":0.947},{"h":"c","m":"Text AUC: 0.945","sp":0.786,"se":0.954},{"h":"c","m":"Text AUC: 0.945","sp":0.758,"se":0.962},{"h":"c","m":"Text AUC: 0.945","sp":0.731,"se":0.971},{"h":"c","m":"Text AUC: 0.945","sp":0.703,"se":0.975},{"h":"c","m":"Text AUC: 0.945","sp":0.661,"se":0.976},{"h":"c","m":"Text AUC: 0.945","sp":0.634,"se":0.981},{"h":"c","m":"Text AUC: 0.945","sp":0.599,"se":0.983},{"h":"c","m":"Text AUC: 0.945","sp":0.564,"se":0.984},{"h":"c","m":"Text AUC: 0.945","sp":0.537,"se":0.988},{"h":"c","m":"Text AUC: 0.945","sp":0.476,"se":0.99},{"h":"c","m":"Text AUC: 0.945","sp":0.476,"se":1},{"h":"c","m":"Text AUC: 0.945","sp":0,"se":1},
{"h":"d","m":"Benchmark AUC: 0.827","sp":1,"se":0},{"h":"d","m":"Benchmark AUC: 0.827","sp":0.999,"se":0.045},{"h":"d","m":"Benchmark AUC: 0.827","sp":0.996,"se":0.112},{"h":"d","m":"Benchmark AUC: 0.827","sp":0.992,"se":0.168},{"h":"d","m":"Benchmark AUC: 0.827","sp":0.988,"se":0.213},{"h":"d","m":"Benchmark AUC: 0.827","sp":0.979,"se":0.248},{"h":"d","m":"Benchmark AUC: 0.827","sp":0.972,"se":0.271},{"h":"d","m":"Benchmark AUC: 0.827","sp":0.965,"se":0.293},{"h":"d","m":"Benchmark AUC: 0.827","sp":0.958,"se":0.324},{"h":"d","m":"Benchmark AUC: 0.827","sp":0.953,"se":0.352},{"h":"d","m":"Benchmark AUC: 0.827","sp":0.946,"se":0.386},{"h":"d","m":"Benchmark AUC: 0.827","sp":0.939,"se":0.419},{"h":"d","m":"Benchmark AUC: 0.827","sp":0.931,"se":0.447},{"h":"d","m":"Benchmark AUC: 0.827","sp":0.924,"se":0.47},{"h":"d","m":"Benchmark AUC: 0.827","sp":0.915,"se":0.492},{"h":"d","m":"Benchmark AUC: 0.827","sp":0.906,"se":0.509},{"h":"d","m":"Benchmark AUC: 0.827","sp":0.896,"se":0.526},{"h":"d","m":"Benchmark AUC: 0.827","sp":0.887,"se":0.543},{"h":"d","m":"Benchmark AUC: 0.827","sp":0.877,"se":0.565},{"h":"d","m":"Benchmark AUC: 0.827","sp":0.863,"se":0.593},{"h":"d","m":"Benchmark AUC: 0.827","sp":0.849,"se":0.606},{"h":"d","m":"Benchmark AUC: 0.827","sp":0.834,"se":0.621},{"h":"d","m":"Benchmark AUC: 0.827","sp":0.823,"se":0.64},{"h":"d","m":"Benchmark AUC: 0.827","sp":0.813,"se":0.66},{"h":"d","m":"Benchmark AUC: 0.827","sp":0.804,"se":0.682},{"h":"d","m":"Benchmark AUC: 0.827","sp":0.795,"se":0.699},{"h":"d","m":"Benchmark AUC: 0.827","sp":0.781,"se":0.71},{"h":"d","m":"Benchmark AUC: 0.827","sp":0.774,"se":0.729},{"h":"d","m":"Benchmark AUC: 0.827","sp":0.762,"se":0.736},{"h":"d","m":"Benchmark AUC: 0.827","sp":0.749,"se":0.744},{"h":"d","m":"Benchmark AUC: 0.827","sp":0.737,"se":0.772},{"h":"d","m":"Benchmark AUC: 0.827","sp":0.724,"se":0.781},{"h":"d","m":"Benchmark AUC: 0.827","sp":0.704,"se":0.783},{"h":"d","m":"Benchmark AUC: 0.827","sp":0.683,"se":0.792},{"h":"d","m":"Benchmark AUC: 0.827","sp":0.669,"se":0.811},{"h":"d","m":"Benchmark AUC: 0.827","sp":0.652,"se":0.817},{"h":"d","m":"Benchmark AUC: 0.827","sp":0.634,"se":0.824},{"h":"d","m":"Benchmark AUC: 0.827","sp":0.614,"se":0.836},{"h":"d","m":"Benchmark AUC: 0.827","sp":0.596,"se":0.845},{"h":"d","m":"Benchmark AUC: 0.827","sp":0.579,"se":0.856},{"h":"d","m":"Benchmark AUC: 0.827","sp":0.558,"se":0.867},{"h":"d","m":"Benchmark AUC: 0.827","sp":0.544,"se":0.87},{"h":"d","m":"Benchmark AUC: 0.827","sp":0.536,"se":0.895},{"h":"d","m":"Benchmark AUC: 0.827","sp":0.524,"se":0.904},{"h":"d","m":"Benchmark AUC: 0.827","sp":0.496,"se":0.912},{"h":"d","m":"Benchmark AUC: 0.827","sp":0.474,"se":0.923},{"h":"d","m":"Benchmark AUC: 0.827","sp":0.454,"se":0.928},{"h":"d","m":"Benchmark AUC: 0.827","sp":0.429,"se":0.943},{"h":"d","m":"Benchmark AUC: 0.827","sp":0.398,"se":0.951},{"h":"d","m":"Benchmark AUC: 0.827","sp":0.374,"se":0.956},{"h":"d","m":"Benchmark AUC: 0.827","sp":0.357,"se":0.968},{"h":"d","m":"Benchmark AUC: 0.827","sp":0.332,"se":0.973},{"h":"d","m":"Benchmark AUC: 0.827","sp":0.287,"se":0.979},{"h":"d","m":"Benchmark AUC: 0.827","sp":0.267,"se":0.984},{"h":"d","m":"Benchmark AUC: 0.827","sp":0.232,"se":0.988},{"h":"d","m":"Benchmark AUC: 0.827","sp":0.156,"se":0.988},{"h":"d","m":"Benchmark AUC: 0.827","sp":0.145,"se":1},{"h":"d","m":"Benchmark AUC: 0.827","sp":0,"se":1},
{"h":"d","m":"Benchmark + Text AUC: 0.958","sp":1,"se":0},{"h":"d","m":"Benchmark + Text AUC: 0.958","sp":0.999,"se":0.089},{"h":"d","m":"Benchmark + Text AUC: 0.958","sp":0.999,"se":0.201},{"h":"d","m":"Benchmark + Text AUC: 0.958","sp":0.997,"se":0.313},{"h":"d","m":"Benchmark + Text AUC: 0.958","sp":0.994,"se":0.414},{"h":"d","m":"Benchmark + Text AUC: 0.958","sp":0.991,"se":0.464},{"h":"d","m":"Benchmark + Text AUC: 0.958","sp":0.986,"se":0.503},{"h":"d","m":"Benchmark + Text AUC: 0.958","sp":0.982,"se":0.543},{"h":"d","m":"Benchmark + Text AUC: 0.958","sp":0.976,"se":0.582},{"h":"d","m":"Benchmark + Text AUC: 0.958","sp":0.971,"se":0.621},{"h":"d","m":"Benchmark + Text AUC: 0.958","sp":0.965,"se":0.66},{"h":"d","m":"Benchmark + Text AUC: 0.958","sp":0.958,"se":0.702},{"h":"d","m":"Benchmark + Text AUC: 0.958","sp":0.952,"se":0.736},{"h":"d","m":"Benchmark + Text AUC: 0.958","sp":0.944,"se":0.766},{"h":"d","m":"Benchmark + Text AUC: 0.958","sp":0.936,"se":0.794},{"h":"d","m":"Benchmark + Text AUC: 0.958","sp":0.927,"se":0.819},{"h":"d","m":"Benchmark + Text AUC: 0.958","sp":0.917,"se":0.841},{"h":"d","m":"Benchmark + Text AUC: 0.958","sp":0.906,"se":0.864},{"h":"d","m":"Benchmark + Text AUC: 0.958","sp":0.896,"se":0.886},{"h":"d","m":"Benchmark + Text AUC: 0.958","sp":0.88,"se":0.897},{"h":"d","m":"Benchmark + Text AUC: 0.958","sp":0.866,"se":0.912},{"h":"d","m":"Benchmark + Text AUC: 0.958","sp":0.852,"se":0.931},{"h":"d","m":"Benchmark + Text AUC: 0.958","sp":0.835,"se":0.945},{"h":"d","m":"Benchmark + Text AUC: 0.958","sp":0.814,"se":0.953},{"h":"d","m":"Benchmark + Text AUC: 0.958","sp":0.794,"se":0.962},{"h":"d","m":"Benchmark + Text AUC: 0.958","sp":0.766,"se":0.966},{"h":"d","m":"Benchmark + Text AUC: 0.958","sp":0.738,"se":0.971},{"h":"d","m":"Benchmark + Text AUC: 0.958","sp":0.711,"se":0.979},{"h":"d","m":"Benchmark + Text AUC: 0.958","sp":0.669,"se":0.982},{"h":"d","m":"Benchmark + Text AUC: 0.958","sp":0.627,"se":0.99},{"h":"d","m":"Benchmark + Text AUC: 0.958","sp":0.572,"se":0.993},{"h":"d","m":"Benchmark + Text AUC: 0.958","sp":0.503,"se":1},{"h":"d","m":"Benchmark + Text AUC: 0.958","sp":0,"se":1},
{"h":"d","m":"Text AUC: 0.950","sp":1,"se":0},{"h":"d","m":"Text AUC: 0.950","sp":0.999,"se":0.089},{"h":"d","m":"Text AUC: 0.950","sp":0.997,"se":0.201},{"h":"d","m":"Text AUC: 0.950","sp":0.996,"se":0.313},{"h":"d","m":"Text AUC: 0.950","sp":0.993,"se":0.392},{"h":"d","m":"Text AUC: 0.950","sp":0.99,"se":0.447},{"h":"d","m":"Text AUC: 0.950","sp":0.985,"se":0.492},{"h":"d","m":"Text AUC: 0.950","sp":0.979,"se":0.528},{"h":"d","m":"Text AUC: 0.950","sp":0.974,"se":0.57},{"h":"d","m":"Text AUC: 0.950","sp":0.968,"se":0.626},{"h":"d","m":"Text AUC: 0.950","sp":0.963,"se":0.671},{"h":"d","m":"Text AUC: 0.950","sp":0.956,"se":0.71},{"h":"d","m":"Text AUC: 0.950","sp":0.947,"se":0.747},{"h":"d","m":"Text AUC: 0.950","sp":0.939,"se":0.777},{"h":"d","m":"Text AUC: 0.950","sp":0.931,"se":0.808},{"h":"d","m":"Text AUC: 0.950","sp":0.92,"se":0.833},{"h":"d","m":"Text AUC: 0.950","sp":0.908,"se":0.85},{"h":"d","m":"Text AUC: 0.950","sp":0.896,"se":0.886},{"h":"d","m":"Text AUC: 0.950","sp":0.887,"se":0.895},{"h":"d","m":"Text AUC: 0.950","sp":0.868,"se":0.895},{"h":"d","m":"Text AUC: 0.950","sp":0.855,"se":0.915},{"h":"d","m":"Text AUC: 0.950","sp":0.835,"se":0.928},{"h":"d","m":"Text AUC: 0.950","sp":0.814,"se":0.937},{"h":"d","m":"Text AUC: 0.950","sp":0.79,"se":0.949},{"h":"d","m":"Text AUC: 0.950","sp":0.766,"se":0.955},{"h":"d","m":"Text AUC: 0.950","sp":0.738,"se":0.96},{"h":"d","m":"Text AUC: 0.950","sp":0.711,"se":0.971},{"h":"d","m":"Text AUC: 0.950","sp":0.69,"se":0.977},{"h":"d","m":"Text AUC: 0.950","sp":0.662,"se":0.979},{"h":"d","m":"Text AUC: 0.950","sp":0.627,"se":0.982},{"h":"d","m":"Text AUC: 0.950","sp":0.586,"se":0.984},{"h":"d","m":"Text AUC: 0.950","sp":0.544,"se":0.988},{"h":"d","m":"Text AUC: 0.950","sp":0.496,"se":0.99},{"h":"d","m":"Text AUC: 0.950","sp":0.364,"se":0.992},{"h":"d","m":"Text AUC: 0.950","sp":0.364,"se":1},{"h":"d","m":"Text AUC: 0.950","sp":0,"se":1}
]
},
"columns": 2,
"spacing": {"row": 117.2, "column": 71.2},
"bounds": "flush",
"resolve": {"scale": {"color": "independent", "strokeDash": "independent"}, "legend": {"color": "independent", "strokeDash": "independent"}},
"concat": [
{"width": 529.4, "height": 327.8,
 "title": {"text": "(a) 1-year horizon", "orient": "bottom", "anchor": "middle", "frame": "group", "font": "DejaVu Serif", "fontSize": 23, "fontWeight": "normal", "color": "#000000", "offset": 23, "dx": -25},
 "layer": [
  {"data": {"name": "roc"}, "transform": [{"filter": "datum.h == 'a'"}],
   "mark": {"type": "line", "strokeWidth": 3},
   "encoding": {
    "x": {"field": "sp", "type": "quantitative", "scale": {"domain": [-0.05, 1.05], "reverse": true, "nice": false, "zero": false},
      "axis": {"title": "Specificity", "values": [0, 0.125, 0.25, 0.375, 0.5, 0.625, 0.75, 0.875, 1], "labelExpr": "datum.value % 0.25 == 0 ? format(datum.value, '.2f') : ''", "gridWidth": {"condition": {"test": "datum.value % 0.25 == 0", "value": 1.3}, "value": 0.65}, "tickOpacity": {"condition": {"test": "datum.value % 0.25 == 0", "value": 1}, "value": 0}, "labelPadding": 0}},
    "y": {"field": "se", "type": "quantitative", "scale": {"domain": [-0.05, 1.05], "nice": false, "zero": false},
      "axis": {"title": "Sensitivity", "values": [0, 0.125, 0.25, 0.375, 0.5, 0.625, 0.75, 0.875, 1], "labelExpr": "datum.value % 0.25 == 0 ? format(datum.value, '.2f') : ''", "gridWidth": {"condition": {"test": "datum.value % 0.25 == 0", "value": 1.3}, "value": 0.65}, "tickOpacity": {"condition": {"test": "datum.value % 0.25 == 0", "value": 1}, "value": 0}, "labelPadding": 0.5}},
    "color": {"field": "m", "type": "nominal", "title": null, "scale": {"domain": ["Benchmark AUC: 0.626", "Benchmark + Text AUC: 0.608", "Text AUC: 0.591"], "range": ["#F8766D", "#00BA38", "#619CFF"]}},
    "strokeDash": {"field": "m", "type": "nominal", "title": null, "scale": {"domain": ["Benchmark AUC: 0.626", "Benchmark + Text AUC: 0.608", "Text AUC: 0.591"], "range": [[1, 0], [5, 7], [9, 6]]}},
    "order": {"value": null}
   }},
  {"data": {"name": "diag"}, "mark": {"type": "line", "color": "#BEBEBE", "strokeWidth": 4.2, "strokeDash": [12, 11]},
   "encoding": {"x": {"field": "sp", "type": "quantitative", "title": "Specificity"}, "y": {"field": "se", "type": "quantitative", "title": "Sensitivity"}, "order": {"value": null}}}
 ]},
{"width": 529.4, "height": 327.8,
 "title": {"text": "(b) 2-year horizon", "orient": "bottom", "anchor": "middle", "frame": "group", "font": "DejaVu Serif", "fontSize": 23, "fontWeight": "normal", "color": "#000000", "offset": 23, "dx": -25},
 "layer": [
  {"data": {"name": "roc"}, "transform": [{"filter": "datum.h == 'b'"}],
   "mark": {"type": "line", "strokeWidth": 3},
   "encoding": {
    "x": {"field": "sp", "type": "quantitative", "scale": {"domain": [-0.05, 1.05], "reverse": true, "nice": false, "zero": false},
      "axis": {"title": "Specificity", "values": [0, 0.125, 0.25, 0.375, 0.5, 0.625, 0.75, 0.875, 1], "labelExpr": "datum.value % 0.25 == 0 ? format(datum.value, '.2f') : ''", "gridWidth": {"condition": {"test": "datum.value % 0.25 == 0", "value": 1.3}, "value": 0.65}, "tickOpacity": {"condition": {"test": "datum.value % 0.25 == 0", "value": 1}, "value": 0}, "labelPadding": 0}},
    "y": {"field": "se", "type": "quantitative", "scale": {"domain": [-0.05, 1.05], "nice": false, "zero": false},
      "axis": {"title": "Sensitivity", "values": [0, 0.125, 0.25, 0.375, 0.5, 0.625, 0.75, 0.875, 1], "labelExpr": "datum.value % 0.25 == 0 ? format(datum.value, '.2f') : ''", "gridWidth": {"condition": {"test": "datum.value % 0.25 == 0", "value": 1.3}, "value": 0.65}, "tickOpacity": {"condition": {"test": "datum.value % 0.25 == 0", "value": 1}, "value": 0}, "labelPadding": 0.5}},
    "color": {"field": "m", "type": "nominal", "title": null, "scale": {"domain": ["Benchmark AUC: 0.794", "Benchmark + Text AUC: 0.915", "Text AUC: 0.911"], "range": ["#F8766D", "#00BA38", "#619CFF"]}},
    "strokeDash": {"field": "m", "type": "nominal", "title": null, "scale": {"domain": ["Benchmark AUC: 0.794", "Benchmark + Text AUC: 0.915", "Text AUC: 0.911"], "range": [[1, 0], [5, 7], [9, 6]]}},
    "order": {"value": null}
   }},
  {"data": {"name": "diag"}, "mark": {"type": "line", "color": "#BEBEBE", "strokeWidth": 4.2, "strokeDash": [12, 11]},
   "encoding": {"x": {"field": "sp", "type": "quantitative", "title": "Specificity"}, "y": {"field": "se", "type": "quantitative", "title": "Sensitivity"}, "order": {"value": null}}}
 ]},
{"width": 529.4, "height": 327.8,
 "title": {"text": "(c) 3-year horizon", "orient": "bottom", "anchor": "middle", "frame": "group", "font": "DejaVu Serif", "fontSize": 23, "fontWeight": "normal", "color": "#000000", "offset": 23, "dx": -25},
 "layer": [
  {"data": {"name": "roc"}, "transform": [{"filter": "datum.h == 'c'"}],
   "mark": {"type": "line", "strokeWidth": 3},
   "encoding": {
    "x": {"field": "sp", "type": "quantitative", "scale": {"domain": [-0.05, 1.05], "reverse": true, "nice": false, "zero": false},
      "axis": {"title": "Specificity", "values": [0, 0.125, 0.25, 0.375, 0.5, 0.625, 0.75, 0.875, 1], "labelExpr": "datum.value % 0.25 == 0 ? format(datum.value, '.2f') : ''", "gridWidth": {"condition": {"test": "datum.value % 0.25 == 0", "value": 1.3}, "value": 0.65}, "tickOpacity": {"condition": {"test": "datum.value % 0.25 == 0", "value": 1}, "value": 0}, "labelPadding": 0}},
    "y": {"field": "se", "type": "quantitative", "scale": {"domain": [-0.05, 1.05], "nice": false, "zero": false},
      "axis": {"title": "Sensitivity", "values": [0, 0.125, 0.25, 0.375, 0.5, 0.625, 0.75, 0.875, 1], "labelExpr": "datum.value % 0.25 == 0 ? format(datum.value, '.2f') : ''", "gridWidth": {"condition": {"test": "datum.value % 0.25 == 0", "value": 1.3}, "value": 0.65}, "tickOpacity": {"condition": {"test": "datum.value % 0.25 == 0", "value": 1}, "value": 0}, "labelPadding": 0.5}},
    "color": {"field": "m", "type": "nominal", "title": null, "scale": {"domain": ["Benchmark AUC: 0.838", "Benchmark + Text AUC: 0.949", "Text AUC: 0.945"], "range": ["#F8766D", "#00BA38", "#619CFF"]}},
    "strokeDash": {"field": "m", "type": "nominal", "title": null, "scale": {"domain": ["Benchmark AUC: 0.838", "Benchmark + Text AUC: 0.949", "Text AUC: 0.945"], "range": [[1, 0], [5, 7], [9, 6]]}},
    "order": {"value": null}
   }},
  {"data": {"name": "diag"}, "mark": {"type": "line", "color": "#BEBEBE", "strokeWidth": 4.2, "strokeDash": [12, 11]},
   "encoding": {"x": {"field": "sp", "type": "quantitative", "title": "Specificity"}, "y": {"field": "se", "type": "quantitative", "title": "Sensitivity"}, "order": {"value": null}}}
 ]},
{"width": 529.4, "height": 327.8,
 "title": {"text": "(d) 4-year horizon", "orient": "bottom", "anchor": "middle", "frame": "group", "font": "DejaVu Serif", "fontSize": 23, "fontWeight": "normal", "color": "#000000", "offset": 23, "dx": -25},
 "layer": [
  {"data": {"name": "roc"}, "transform": [{"filter": "datum.h == 'd'"}],
   "mark": {"type": "line", "strokeWidth": 3},
   "encoding": {
    "x": {"field": "sp", "type": "quantitative", "scale": {"domain": [-0.05, 1.05], "reverse": true, "nice": false, "zero": false},
      "axis": {"title": "Specificity", "values": [0, 0.125, 0.25, 0.375, 0.5, 0.625, 0.75, 0.875, 1], "labelExpr": "datum.value % 0.25 == 0 ? format(datum.value, '.2f') : ''", "gridWidth": {"condition": {"test": "datum.value % 0.25 == 0", "value": 1.3}, "value": 0.65}, "tickOpacity": {"condition": {"test": "datum.value % 0.25 == 0", "value": 1}, "value": 0}, "labelPadding": 0}},
    "y": {"field": "se", "type": "quantitative", "scale": {"domain": [-0.05, 1.05], "nice": false, "zero": false},
      "axis": {"title": "Sensitivity", "values": [0, 0.125, 0.25, 0.375, 0.5, 0.625, 0.75, 0.875, 1], "labelExpr": "datum.value % 0.25 == 0 ? format(datum.value, '.2f') : ''", "gridWidth": {"condition": {"test": "datum.value % 0.25 == 0", "value": 1.3}, "value": 0.65}, "tickOpacity": {"condition": {"test": "datum.value % 0.25 == 0", "value": 1}, "value": 0}, "labelPadding": 0.5}},
    "color": {"field": "m", "type": "nominal", "title": null, "scale": {"domain": ["Benchmark AUC: 0.827", "Benchmark + Text AUC: 0.958", "Text AUC: 0.950"], "range": ["#F8766D", "#00BA38", "#619CFF"]}},
    "strokeDash": {"field": "m", "type": "nominal", "title": null, "scale": {"domain": ["Benchmark AUC: 0.827", "Benchmark + Text AUC: 0.958", "Text AUC: 0.950"], "range": [[1, 0], [5, 7], [9, 6]]}},
    "order": {"value": null}
   }},
  {"data": {"name": "diag"}, "mark": {"type": "line", "color": "#BEBEBE", "strokeWidth": 4.2, "strokeDash": [12, 11]},
   "encoding": {"x": {"field": "sp", "type": "quantitative", "title": "Specificity"}, "y": {"field": "se", "type": "quantitative", "title": "Sensitivity"}, "order": {"value": null}}}
 ]}
],
"config": {
 "font": "Liberation Sans",
 "view": {"stroke": "#333333", "strokeWidth": 1.3},
 "axis": {"labelFont": "Liberation Sans", "labelFontSize": 16.3, "labelFontWeight": "bold", "labelColor": "#4D4D4D", "labelFlush": false, "labelOverlap": false, "labelBound": false, "titleFont": "Liberation Sans", "titleFontSize": 16.5, "titleFontWeight": "normal", "titleColor": "#000000", "titlePadding": 0, "domain": false, "tickColor": "#333333", "tickSize": 3.7, "tickWidth": 1.07, "gridColor": "#EBEBEB"},
 "legend": {"orient": "none", "legendX": 250.4, "legendY": 242, "padding": 0, "labelFont": "Liberation Sans", "labelFontSize": 16.4, "labelLimit": 0, "labelColor": "#000000", "symbolType": "stroke", "symbolSize": 100, "symbolStrokeWidth": 3, "labelOffset": 10, "rowPadding": -0.4}
}
}
